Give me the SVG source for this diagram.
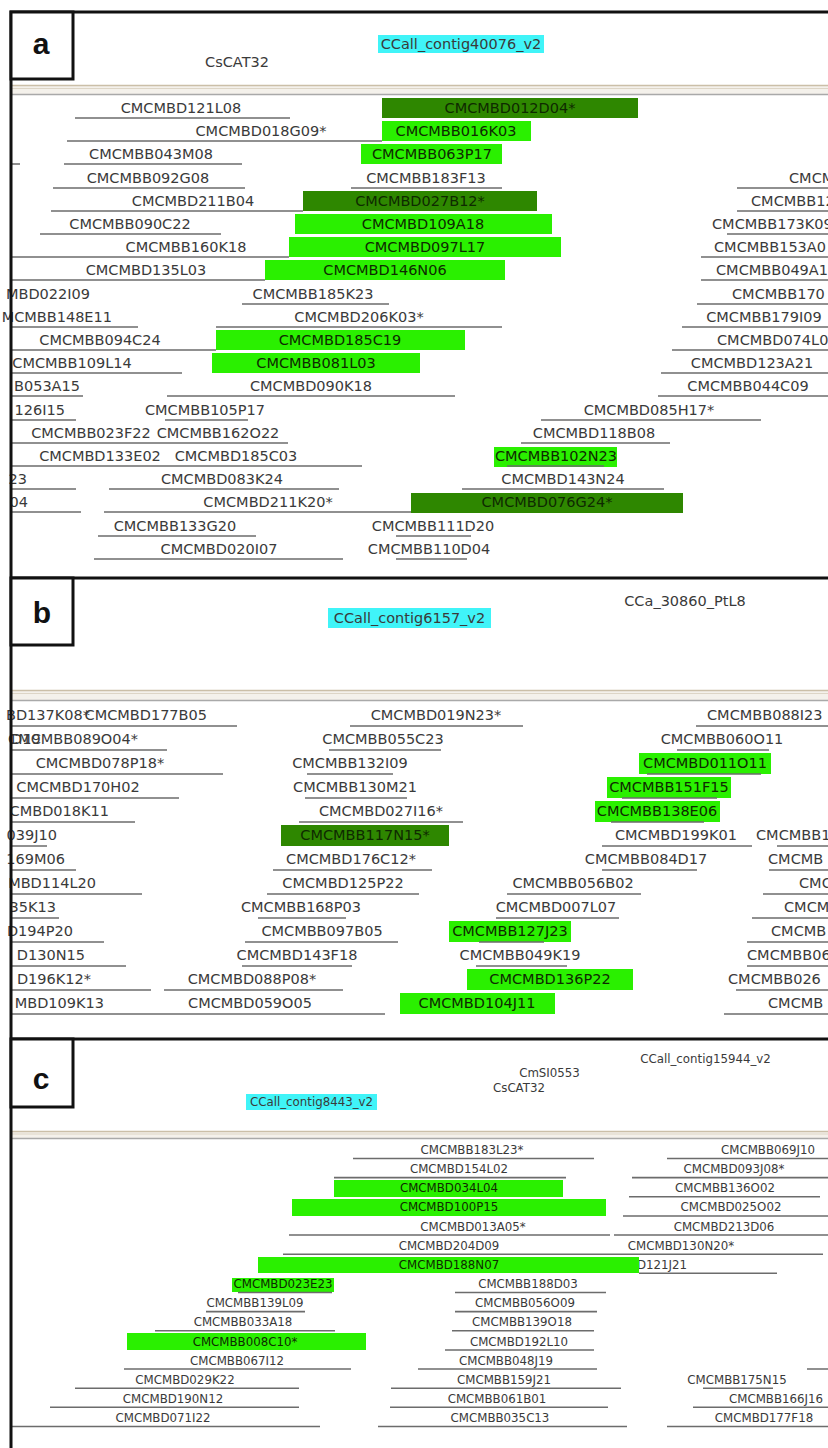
<svg xmlns="http://www.w3.org/2000/svg" width="828" height="1448" viewBox="0 0 828 1448">
<style>
.t{font-family:"DejaVu Sans",sans-serif;font-size:14.5px;fill:#3a3a3a;text-anchor:middle}
.s{font-family:"DejaVu Sans",sans-serif;font-size:11.8px;fill:#3a3a3a;text-anchor:middle}
.e{text-anchor:end}
.b{text-anchor:start}
.k{fill:#0e2a00}
.ln{stroke:#6c6c6c;stroke-width:1.6;fill:none}
.bb{fill:#2af000}
.db{fill:#2e8700}
.cy{fill:#40f4f8}
.bd{stroke:#111;stroke-width:3;fill:none}
.lb{stroke:#111;stroke-width:3;fill:#fff}
.lt{font-family:"Liberation Sans",Arial,sans-serif;font-weight:bold;font-size:30px;fill:#111;text-anchor:middle}
.sp1{stroke:#cbbfa8;stroke-width:1.5}
.sp2{stroke:#ddd5c6;stroke-width:1}
.sp3{stroke:#a9a9a9;stroke-width:1.5}
</style>
<rect width="828" height="1448" fill="#fff"/>

<!-- Panel a -->
<g id="panel-a">
  <g id="a-header">
    <rect class="cy" x="378" y="35" width="166" height="18"/>
    <text class="t" x="461" y="49">CCall_contig40076_v2</text>
    <text class="t" x="237" y="67">CsCAT32</text>
  </g>
  <g id="a-sep">
    <rect x="12" y="85" width="816" height="10" fill="#f4f1eb"/>
    <line class="sp1" x1="12" y1="85.5" x2="828" y2="85.5"/>
    <line class="sp2" x1="12" y1="88.5" x2="828" y2="88.5"/>
    <line class="sp3" x1="12" y1="94.5" x2="828" y2="94.5"/>
  </g>
  <g id="a-bars">
    <rect class="db" x="382" y="98" width="256" height="20"/>
    <rect class="bb" x="382" y="121" width="149" height="20"/>
    <rect class="bb" x="361" y="144" width="141" height="20"/>
    <rect class="db" x="303" y="191" width="234" height="20"/>
    <rect class="bb" x="295" y="214" width="257" height="20"/>
    <rect class="bb" x="289" y="237" width="272" height="20"/>
    <rect class="bb" x="265" y="260" width="240" height="20"/>
    <rect class="bb" x="216" y="330" width="249" height="20"/>
    <rect class="bb" x="212" y="353" width="208" height="20"/>
    <rect class="bb" x="494" y="447" width="123" height="20"/>
    <rect class="db" x="411" y="493" width="272" height="20"/>
  </g>
  <g id="a-lines">
    <path class="ln" d="M75 118H290 M67 141H382 M10 164H20 M64 164H242 M53 188H245 M351 188H502 M737 188H828 M51 211H303 M737 211H828 M40 234H221 M727 234H828 M12 257H289 M701 257H828 M12 280H265 M701 280H828 M242 304H389 M697 304H828 M12 327H138 M216 327H502 M682 327H828 M12 350H216 M672 350H828 M12 373H182 M661 373H828 M12 396H83 M167 396H455 M658 396H828 M12 420H76 M165 420H248 M541 420H761 M12 443H288 M521 443H670 M12 466H362 M507 466H604 M12 489H76 M109 489H339 M462 489H664 M12 512H81 M104 512H411 M98 536H256 M396 536H471 M94 559H343 M396 559H467"/>
  </g>
  <g id="a-labels">
    <text class="t" x="181" y="113">CMCMBD121L08</text>
    <text class="t k" x="510" y="113">CMCMBD012D04*</text>
    <text class="t" x="261" y="136">CMCMBD018G09*</text>
    <text class="t k" x="456" y="136">CMCMBB016K03</text>
    <text class="t" x="151" y="159">CMCMBB043M08</text>
    <text class="t k" x="432" y="159">CMCMBB063P17</text>
    <text class="t" x="148" y="183">CMCMBB092G08</text>
    <text class="t" x="426" y="183">CMCMBB183F13</text>
    <text class="t b" x="789" y="183">CMCM</text>
    <text class="t" x="193" y="206">CMCMBD211B04</text>
    <text class="t k" x="420" y="206">CMCMBD027B12*</text>
    <text class="t b" x="751" y="206">CMCMBB12</text>
    <text class="t" x="130" y="229">CMCMBB090C22</text>
    <text class="t k" x="423" y="229">CMCMBD109A18</text>
    <text class="t b" x="712" y="229">CMCMBB173K09</text>
    <text class="t" x="186" y="252">CMCMBB160K18</text>
    <text class="t k" x="425" y="252">CMCMBD097L17</text>
    <text class="t b" x="714" y="252">CMCMBB153A0</text>
    <text class="t" x="146" y="275">CMCMBD135L03</text>
    <text class="t k" x="385" y="275">CMCMBD146N06</text>
    <text class="t b" x="716" y="275">CMCMBB049A1</text>
    <text class="t e" x="90" y="299">MBD022I09</text>
    <text class="t" x="313" y="299">CMCMBB185K23</text>
    <text class="t b" x="732" y="299">CMCMBB170</text>
    <text class="t e" x="112" y="322">MCMBB148E11</text>
    <text class="t" x="359" y="322">CMCMBD206K03*</text>
    <text class="t" x="764" y="322">CMCMBB179I09</text>
    <text class="t" x="100" y="345">CMCMBB094C24</text>
    <text class="t k" x="340" y="345">CMCMBD185C19</text>
    <text class="t b" x="717" y="345">CMCMBD074L0</text>
    <text class="t" x="72" y="368">CMCMBB109L14</text>
    <text class="t k" x="316" y="368">CMCMBB081L03</text>
    <text class="t" x="752" y="368">CMCMBD123A21</text>
    <text class="t e" x="80" y="391">B053A15</text>
    <text class="t" x="311" y="391">CMCMBD090K18</text>
    <text class="t" x="748" y="391">CMCMBB044C09</text>
    <text class="t e" x="65" y="415">126I15</text>
    <text class="t" x="205" y="415">CMCMBB105P17</text>
    <text class="t" x="649" y="415">CMCMBD085H17*</text>
    <text class="t" x="91" y="438">CMCMBB023F22</text>
    <text class="t" x="218" y="438">CMCMBB162O22</text>
    <text class="t" x="594" y="438">CMCMBD118B08</text>
    <text class="t" x="100" y="461">CMCMBD133E02</text>
    <text class="t" x="236" y="461">CMCMBD185C03</text>
    <text class="t k" x="556" y="461">CMCMBB102N23</text>
    <text class="t e" x="27" y="484">23</text>
    <text class="t" x="222" y="484">CMCMBD083K24</text>
    <text class="t" x="563" y="484">CMCMBD143N24</text>
    <text class="t e" x="28" y="507">04</text>
    <text class="t" x="268" y="507">CMCMBD211K20*</text>
    <text class="t k" x="547" y="507">CMCMBD076G24*</text>
    <text class="t" x="175" y="531">CMCMBB133G20</text>
    <text class="t" x="433" y="531">CMCMBB111D20</text>
    <text class="t" x="219" y="554">CMCMBD020I07</text>
    <text class="t" x="429" y="554">CMCMBB110D04</text>
  </g>
</g>

<!-- Panel b -->
<g id="panel-b">
  <g id="b-header">
    <rect class="cy" x="328" y="608" width="163" height="20"/>
    <text class="t" x="409.5" y="623">CCall_contig6157_v2</text>
    <text class="t" x="685" y="606">CCa_30860_PtL8</text>
  </g>
  <g id="b-sep">
    <rect x="12" y="690" width="816" height="11" fill="#f4f1eb"/>
    <line class="sp1" x1="12" y1="690.5" x2="828" y2="690.5"/>
    <line class="sp2" x1="12" y1="693.5" x2="828" y2="693.5"/>
    <line class="sp3" x1="12" y1="700.5" x2="828" y2="700.5"/>
  </g>
  <g id="b-bars">
    <rect class="bb" x="639" y="753" width="132" height="21"/>
    <rect class="bb" x="607" y="777" width="124" height="21"/>
    <rect class="bb" x="595" y="801" width="125" height="21"/>
    <rect class="db" x="281" y="825" width="168" height="21"/>
    <rect class="bb" x="449" y="921" width="122" height="21"/>
    <rect class="bb" x="467" y="969" width="166" height="21"/>
    <rect class="bb" x="400" y="993" width="155" height="21"/>
  </g>
  <g id="b-lines">
    <path class="ln" d="M12 726H237 M350 726H523 M696 726H828 M12 750H167 M329 750H441 M677 750H769 M12 774H223 M307 774H393 M647 774H761 M12 798H179 M305 798H407 M622 798H717 M12 822H135 M299 822H463 M611 822H704 M12 846H47 M602 846H752 M777 846H828 M12 870H76 M273 870H432 M602 870H697 M769 870H828 M12 894H142 M267 894H419 M507 894H641 M763 894H828 M12 918H59 M258 918H346 M496 918H619 M752 918H828 M12 942H104 M245 942H398 M479 942H544 M747 942H828 M12 966H126 M242 966H352 M476 966H567 M747 966H828 M12 990H151 M164 990H343 M736 990H828 M12 1014H385 M724 1014H828"/>
  </g>
  <g id="b-labels">
    <text class="t e" x="90" y="720">BD137K08*</text>
    <text class="t e" x="207" y="720">CMCMBD177B05</text>
    <text class="t" x="436" y="720">CMCMBD019N23*</text>
    <text class="t b" x="707" y="720">CMCMBB088I23</text>
    <text class="t b" x="11" y="744">D19</text>
    <text class="t e" x="138" y="744">CMCMBB089O04*</text>
    <text class="t" x="383" y="744">CMCMBB055C23</text>
    <text class="t" x="722" y="744">CMCMBB060O11</text>
    <text class="t" x="100" y="768">CMCMBD078P18*</text>
    <text class="t" x="350" y="768">CMCMBB132I09</text>
    <text class="t k" x="705" y="768">CMCMBD011O11</text>
    <text class="t" x="78" y="792">CMCMBD170H02</text>
    <text class="t" x="355" y="792">CMCMBB130M21</text>
    <text class="t k" x="669" y="792">CMCMBB151F15</text>
    <text class="t e" x="109" y="816">CMBD018K11</text>
    <text class="t" x="381" y="816">CMCMBD027I16*</text>
    <text class="t k" x="657" y="816">CMCMBB138E06</text>
    <text class="t e" x="57" y="840">039J10</text>
    <text class="t k" x="365" y="840">CMCMBB117N15*</text>
    <text class="t" x="676" y="840">CMCMBD199K01</text>
    <text class="t b" x="756" y="840">CMCMBB1</text>
    <text class="t e" x="65" y="864">169M06</text>
    <text class="t" x="351" y="864">CMCMBD176C12*</text>
    <text class="t" x="646" y="864">CMCMBB084D17</text>
    <text class="t b" x="768" y="864">CMCMB</text>
    <text class="t e" x="96" y="888">MBD114L20</text>
    <text class="t" x="343" y="888">CMCMBD125P22</text>
    <text class="t" x="573" y="888">CMCMBB056B02</text>
    <text class="t b" x="799" y="888">CMC</text>
    <text class="t e" x="56" y="912">35K13</text>
    <text class="t" x="301" y="912">CMCMBB168P03</text>
    <text class="t" x="556" y="912">CMCMBD007L07</text>
    <text class="t b" x="784" y="912">CMCM</text>
    <text class="t e" x="73" y="936">D194P20</text>
    <text class="t" x="322" y="936">CMCMBB097B05</text>
    <text class="t k" x="510" y="936">CMCMBB127J23</text>
    <text class="t b" x="771" y="936">CMCMB</text>
    <text class="t e" x="85" y="960">D130N15</text>
    <text class="t" x="297" y="960">CMCMBD143F18</text>
    <text class="t" x="520" y="960">CMCMBB049K19</text>
    <text class="t b" x="747" y="960">CMCMBB06</text>
    <text class="t e" x="91" y="984">D196K12*</text>
    <text class="t" x="252" y="984">CMCMBD088P08*</text>
    <text class="t k" x="550" y="984">CMCMBD136P22</text>
    <text class="t b" x="728" y="984">CMCMBB026</text>
    <text class="t e" x="104" y="1008">MBD109K13</text>
    <text class="t" x="250" y="1008">CMCMBD059O05</text>
    <text class="t k" x="477" y="1008">CMCMBD104J11</text>
    <text class="t b" x="768" y="1008">CMCMB</text>
  </g>
</g>

<!-- Panel c -->
<g id="panel-c">
  <g id="c-header">
    <rect class="cy" x="246" y="1094" width="131" height="16"/>
    <text class="s" x="311.5" y="1106">CCall_contig8443_v2</text>
    <text class="s" x="705.5" y="1063">CCall_contig15944_v2</text>
    <text class="s" x="549.5" y="1077">CmSI0553</text>
    <text class="s" x="519" y="1092">CsCAT32</text>
  </g>
  <g id="c-sep">
    <rect x="12" y="1131" width="816" height="8" fill="#f4f1eb"/>
    <line class="sp1" x1="12" y1="1131.5" x2="828" y2="1131.5"/>
    <line class="sp2" x1="12" y1="1134" x2="828" y2="1134"/>
    <line class="sp3" x1="12" y1="1138.5" x2="828" y2="1138.5"/>
  </g>
  <text class="s e" x="687" y="1269">D121J21</text>
  <g id="c-bars">
    <rect class="bb" x="334" y="1180" width="229" height="17"/>
    <rect class="bb" x="292" y="1199" width="314" height="17"/>
    <rect class="bb" x="258" y="1257" width="381" height="16"/>
    <rect class="bb" x="232" y="1278" width="102" height="14"/>
    <rect class="bb" x="127" y="1333" width="239" height="17"/>
  </g>
  <g id="c-lines">
    <path class="ln" d="M353 1158.5H594 M667 1158.5H828 M334 1177.6H566 M632 1177.6H828 M629 1196.8H820 M623 1216H828 M289 1235H610 M614 1235H828 M283 1254.2H823 M639 1273.3H777 M238 1292.5H332 M455 1292.5H606 M206 1311.6H305 M455 1311.6H597 M155 1330.8H335 M452 1330.8H594 M445 1350H594 M124 1369H351 M418 1369H597 M807 1369H828 M75 1388.2H299 M391 1388.2H621 M703 1388.2H773 M50 1407.3H299 M390 1407.3H608 M693 1407.3H828 M12 1426.5H320 M378 1426.5H627 M667 1426.5H828"/>
  </g>
  <g id="c-labels">
    <text class="s" x="472" y="1154">CMCMBB183L23*</text>
    <text class="s" x="768" y="1154">CMCMBB069J10</text>
    <text class="s" x="459" y="1173">CMCMBD154L02</text>
    <text class="s" x="734" y="1173">CMCMBD093J08*</text>
    <text class="s k" x="449" y="1192">CMCMBD034L04</text>
    <text class="s" x="725" y="1192">CMCMBB136O02</text>
    <text class="s k" x="449" y="1211">CMCMBD100P15</text>
    <text class="s" x="731" y="1211">CMCMBD025O02</text>
    <text class="s" x="473" y="1230.5">CMCMBD013A05*</text>
    <text class="s" x="724" y="1230.5">CMCMBD213D06</text>
    <text class="s" x="449" y="1249.5">CMCMBD204D09</text>
    <text class="s" x="681" y="1249.5">CMCMBD130N20*</text>
    <text class="s k" x="449" y="1269">CMCMBD188N07</text>
    <text class="s k" x="283" y="1288">CMCMBD023E23</text>
    <text class="s" x="528" y="1288">CMCMBB188D03</text>
    <text class="s" x="255" y="1307">CMCMBB139L09</text>
    <text class="s" x="525" y="1307">CMCMBB056O09</text>
    <text class="s" x="243" y="1326">CMCMBB033A18</text>
    <text class="s" x="522" y="1326">CMCMBB139O18</text>
    <text class="s k" x="245" y="1345.5">CMCMBB008C10*</text>
    <text class="s" x="519" y="1345.5">CMCMBD192L10</text>
    <text class="s" x="237" y="1364.5">CMCMBB067I12</text>
    <text class="s" x="506" y="1364.5">CMCMBB048J19</text>
    <text class="s" x="185" y="1384">CMCMBD029K22</text>
    <text class="s" x="504" y="1384">CMCMBB159J21</text>
    <text class="s" x="737" y="1384">CMCMBB175N15</text>
    <text class="s" x="173" y="1403">CMCMBD190N12</text>
    <text class="s" x="497" y="1403">CMCMBB061B01</text>
    <text class="s" x="776" y="1403">CMCMBB166J16</text>
    <text class="s" x="163" y="1422">CMCMBD071I22</text>
    <text class="s" x="500" y="1422">CMCMBB035C13</text>
    <text class="s" x="764" y="1422">CMCMBD177F18</text>
  </g>
</g>

<!-- Frame and panel label boxes -->
<g id="frame">
  <path class="bd" d="M828 12H11V1448 M10 578H828 M10 1039H828"/>
  <g id="label-a"><rect class="lb" x="11" y="12" width="62" height="67"/><text class="lt" x="41" y="54">a</text></g>
  <g id="label-b"><rect class="lb" x="11" y="578" width="62" height="67"/><text class="lt" x="42" y="623">b</text></g>
  <g id="label-c"><rect class="lb" x="11" y="1039" width="62" height="68"/><text class="lt" x="41" y="1089">c</text></g>
</g>
</svg>
